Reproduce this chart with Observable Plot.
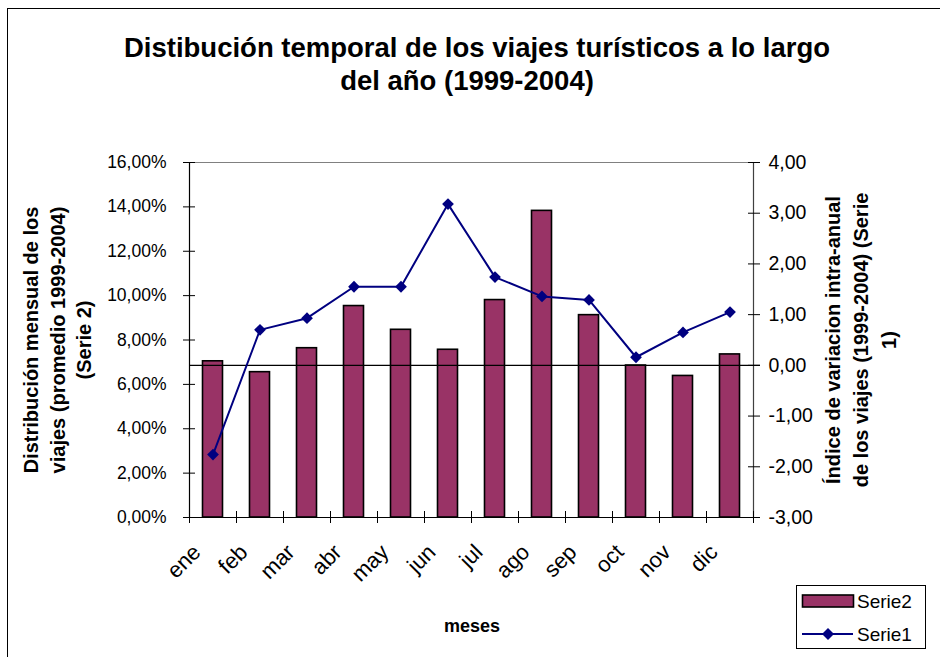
<!DOCTYPE html>
<html><head><meta charset="utf-8">
<script src="https://cdn.jsdelivr.net/npm/d3@7"></script>
<script src="https://cdn.jsdelivr.net/npm/@observablehq/plot@0.6"></script>
<style>
body{margin:0;background:#fff;}
#wrap{position:relative;width:940px;height:657px;overflow:hidden;font-family:"Liberation Sans",Arial,sans-serif;color:#000;}
.abs{position:absolute;white-space:nowrap;}
#wrap svg{position:absolute;left:0;top:0;}
</style></head><body>
<div id="wrap"></div>
<script>
const months = ["ene","feb","mar","abr","may","jun","jul","ago","sep","oct","nov","dic"];
const serie2 = [7.04, 6.55, 7.63, 9.53, 8.46, 7.56, 9.80, 13.82, 9.12, 6.85, 6.38, 7.35];
const serie1 = [-1.76, 0.70, 0.93, 1.55, 1.55, 3.18, 1.74, 1.36, 1.29, 0.16, 0.65, 1.05];
const leftTicks = [0, 2, 4, 6, 8, 10, 12, 14, 16];
const rightTicks = [-3, -2, -1, 0, 1, 2, 3, 4];
const titleLines = ["Distibución temporal de los viajes turísticos a lo largo", "del año (1999-2004)"];
const leftTitle = ["Distribución mensual de los", "viajes (promedio 1999-2004)", "(Serie 2)"];
const rightTitle = ["Índice de variacion intra-anual", "de los viajes (1999-2004) (Serie", "1)"];
const xTitle = "meses";
const seriesNames = ["Serie2", "Serie1"];

const leftMax = 16, rightMin = -3, rightMax = 4;
const toLeft = v => (v - rightMin) / (rightMax - rightMin) * leftMax;
const fromLeft = y => y / leftMax * (rightMax - rightMin) + rightMin;
const fmt = v => (Math.round(v * 100) / 100).toFixed(2).replace(".", ",");
const data = months.map((m, i) => ({m, i, s2: serie2[i], s1: serie1[i]}));
const catEdges = d3.range(months.length + 1);
const catCenters = d3.range(months.length).map(i => i + 0.5);

const chart = Plot.plot({
  width: 940, height: 657,
  marginLeft: 189, marginRight: 187, marginTop: 162, marginBottom: 140,
  style: {fontFamily: "'Liberation Sans', Arial, sans-serif", fontSize: "17px", color: "#000", background: "transparent", overflow: "visible"},
  x: {domain: [0, months.length], axis: null},
  y: {domain: [0, leftMax], axis: null},
  marks: [
    Plot.rect(data, {x1: "i", x2: d => d.i + 1, y1: 0, y2: "s2", insetLeft: 13.5, insetRight: 13.5, fill: "#993366", stroke: "#000", strokeWidth: 1.6}),
    Plot.ruleY([leftMax], {stroke: "#808080", strokeWidth: 1.2}),
    Plot.ruleX([0], {stroke: "#000", strokeWidth: 1.2}),
    Plot.ruleX([months.length], {stroke: "#404040", strokeWidth: 1.2}),
    Plot.ruleY([0], {stroke: "#000", strokeWidth: 1.2}),
    Plot.ruleY([toLeft(0)], {stroke: "#000", strokeWidth: 1.3, insetRight: -7}),
    Plot.axisY(leftTicks, {anchor: "left", tickSize: 12, dx: 6, fill: "none", label: null}),
    Plot.axisY(leftTicks, {anchor: "left", tickSize: 0, tickPadding: 23, tickFormat: d => fmt(d) + "%", fontSize: 17.5, label: null}),
    Plot.axisY(rightTicks.map(toLeft), {anchor: "right", tickSize: 12, dx: -6, fill: "none", label: null}),
    Plot.axisY(rightTicks.map(toLeft), {anchor: "right", tickSize: 0, tickPadding: 15, tickFormat: d => fmt(fromLeft(d)), fontSize: 19.5, label: null}),
    Plot.axisX(catEdges, {anchor: "bottom", tickSize: 12, dy: -6, fill: "none", label: null}),
    Plot.axisX(catCenters, {anchor: "bottom", tickSize: 0, tickPadding: 31, dx: -16, tickRotate: -45, tickFormat: d => months[Math.floor(d)], fontSize: 22, label: null}),
    Plot.line(data, {x: d => d.i + 0.5, y: d => toLeft(d.s1), stroke: "#000080", strokeWidth: 2}),
    Plot.dot(data, {x: d => d.i + 0.5, y: d => toLeft(d.s1), symbol: "diamond2", r: 5.3, fill: "#000080", stroke: "none"})
  ]
});
const wrap = document.getElementById("wrap");
wrap.appendChild(chart);

function addDiv(html, css) {
  const d = document.createElement("div");
  d.className = "abs";
  d.innerHTML = html;
  d.style.cssText += css;
  wrap.appendChild(d);
  return d;
}
// outer border
addDiv("", "left:7px;top:8px;width:1000px;height:1000px;border:1.5px solid #000;box-sizing:border-box;");
// title
addDiv(titleLines[0], "left:0;width:954px;text-align:center;top:31px;font-weight:bold;font-size:27.5px;line-height:33px;");
addDiv(titleLines[1], "left:0;width:934px;text-align:center;top:64px;font-weight:bold;font-size:27.5px;line-height:33px;");
// left y title
addDiv(leftTitle.join("<br>"), "left:" + (58 - 170) + "px;top:" + (340 - 40) + "px;width:340px;height:80px;line-height:26.5px;text-align:center;font-weight:bold;font-size:20px;transform:rotate(-90deg);display:flex;flex-direction:column;justify-content:center;");
// right y title
addDiv(rightTitle.join("<br>"), "left:" + (861 - 170) + "px;top:" + (340 - 42) + "px;width:340px;height:84px;line-height:28px;text-align:center;font-weight:bold;font-size:20px;transform:rotate(-90deg);display:flex;flex-direction:column;justify-content:center;");
// x title
addDiv(xTitle, "left:372px;width:200px;text-align:center;top:615px;font-weight:bold;font-size:18px;line-height:22px;");
// legend
const lg = addDiv("", "left:796px;top:585px;width:130px;height:64px;border:1px solid #000;box-sizing:border-box;background:#fff;");
lg.innerHTML =
  '<svg width="128" height="62" style="position:absolute;left:0;top:0">' +
  '<rect x="5.5" y="9" width="51" height="12" fill="#993366" stroke="#000" stroke-width="1.6"/>' +
  '<line x1="5" x2="56" y1="48" y2="48" stroke="#000080" stroke-width="2"/>' +
  '<path d="M31,42 L37,48 L31,54 L25,48 Z" fill="#000080"/>' +
  '<text x="60" y="22" font-size="19" font-family="Liberation Sans, Arial, sans-serif">' + seriesNames[0] + '</text>' +
  '<text x="60" y="54.5" font-size="19" font-family="Liberation Sans, Arial, sans-serif">' + seriesNames[1] + '</text>' +
  '</svg>';
</script>
</body></html>
